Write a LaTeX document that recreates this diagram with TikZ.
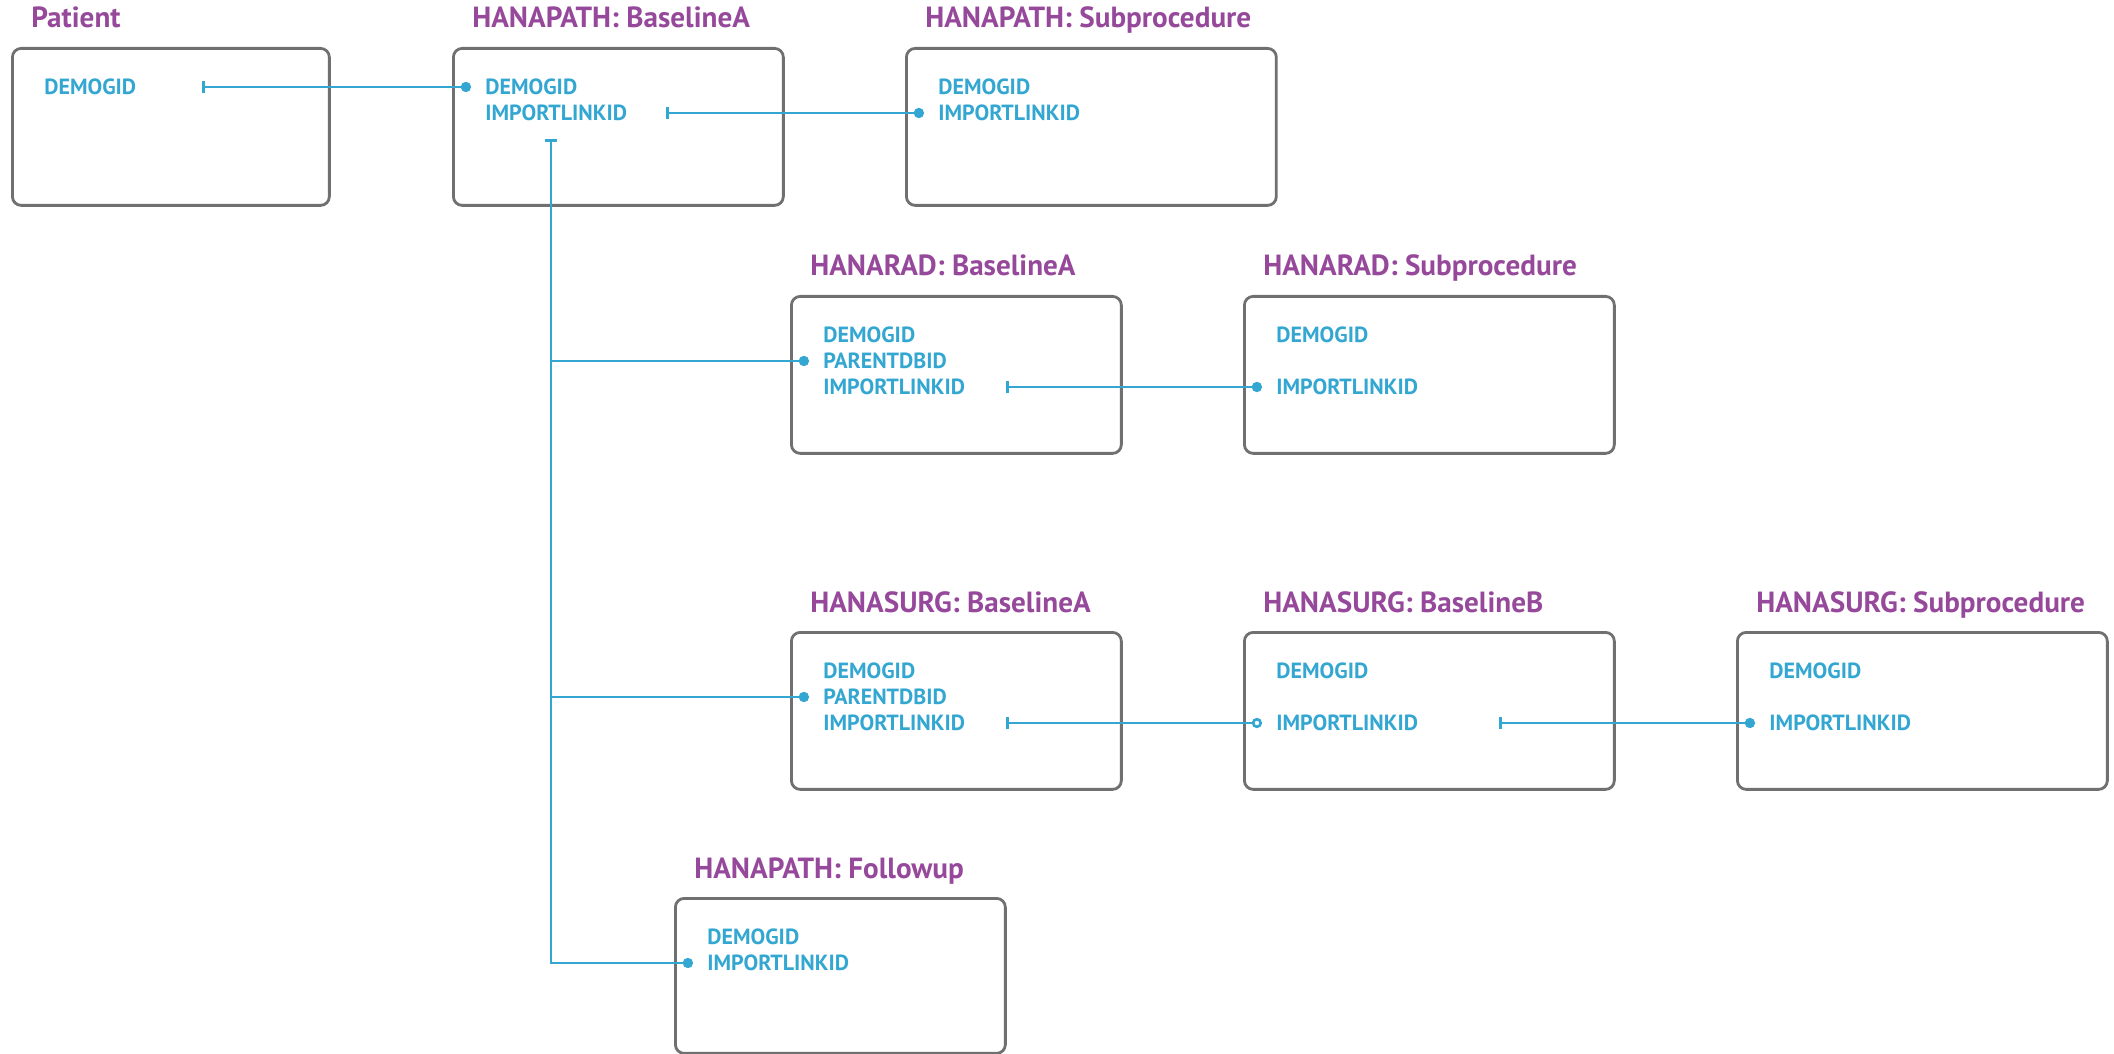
\documentclass[tikz,border=0pt]{standalone}
\usepackage{fontspec}
\setmainfont{PT Sans}
\usetikzlibrary{arrows.meta,positioning,calc}
\definecolor{tabtitle}{RGB}{150,72,155}
\definecolor{fieldblue}{RGB}{51,167,209}
\definecolor{boxgray}{RGB}{112,112,112}

\begin{document}
\begin{tikzpicture}[x=0.02cm,y=-0.02cm,
  tbl/.style={draw=boxgray,line width=1.6pt,rounded corners=5pt,anchor=north west,
    inner sep=0pt,minimum width=6.6cm,minimum height=3.14cm},
  wide/.style={tbl,minimum width=7.4cm},
  ttl/.style={anchor=base west,inner sep=0pt,text=tabtitle,
    font=\fontsize{16.6}{20}\selectfont\bfseries},
  fld/.style={anchor=west,inner xsep=8pt,inner ysep=0pt,text depth=0pt,
    text=fieldblue,font=\fontsize{12.5}{15}\selectfont\bfseries},
  link/.style={draw=fieldblue,line width=1.5pt,
    arrows={Bar[width=7pt]-Circle[length=5.8pt]}},
  optlink/.style={link,arrows={Bar[width=7pt]-Circle[open,length=5.8pt]}},
  branch/.style={draw=fieldblue,line width=1.5pt,arrows={-Circle[length=5.8pt]}}]

  \useasboundingbox (0,0) rectangle (2114,1054);

  % tables
  \node[tbl,minimum width=6.34cm] (pat) at (11,47) {};
  \node[tbl] (pathA) at (452,47) {};
  \node[wide] (pathS) at (905,47) {};
  \node[tbl] (radA) at (790,295) {};
  \node[wide] (radS) at (1243,295) {};
  \node[tbl] (surgA) at (790,631) {};
  \node[wide] (surgB) at (1243,631) {};
  \node[wide] (surgS) at (1736,631) {};
  \node[tbl,minimum height=3.1cm] (pathF) at (674,897) {};

  % titles
  \node[ttl] (patTtl) at ($(pat.north west)+(20,-19)$) {Patient};
  \node[ttl] (pathATtl) at ($(pathA.north west)+(20,-19)$) {HANAPATH: BaselineA};
  \node[ttl] (pathSTtl) at ($(pathS.north west)+(20,-19)$) {HANAPATH: Subprocedure};
  \node[ttl] (radATtl) at ($(radA.north west)+(20,-19)$) {HANARAD: BaselineA};
  \node[ttl] (radSTtl) at ($(radS.north west)+(20,-19)$) {HANARAD: Subprocedure};
  \node[ttl] (surgATtl) at ($(surgA.north west)+(20,-19)$) {HANASURG: BaselineA};
  \node[ttl] (surgBTtl) at ($(surgB.north west)+(20,-19)$) {HANASURG: BaselineB};
  \node[ttl] (surgSTtl) at ($(surgS.north west)+(20,-19)$) {HANASURG: Subprocedure};
  \node[ttl] (pathFTtl) at ($(pathF.north west)+(20,-19)$) {HANAPATH: Followup};

  % fields
  \node[fld] (patDem) at ($(pat.north west)+(19,40)$) {DEMOGID};

  \node[fld] (pathADem) at ($(pathA.north west)+(19,40)$) {DEMOGID};
  \node[fld] (pathAImp) at ($(pathA.north west)+(19,66)$) {IMPORTLINKID};

  \node[fld] (pathSDem) at ($(pathS.north west)+(19,40)$) {DEMOGID};
  \node[fld] (pathSImp) at ($(pathS.north west)+(19,66)$) {IMPORTLINKID};

  \node[fld] (radADem) at ($(radA.north west)+(19,40)$) {DEMOGID};
  \node[fld] (radAPar) at ($(radA.north west)+(19,66)$) {PARENTDBID};
  \node[fld] (radAImp) at ($(radA.north west)+(19,92)$) {IMPORTLINKID};

  \node[fld] (radSDem) at ($(radS.north west)+(19,40)$) {DEMOGID};
  \node[fld] (radSImp) at ($(radS.north west)+(19,92)$) {IMPORTLINKID};

  \node[fld] (surgADem) at ($(surgA.north west)+(19,40)$) {DEMOGID};
  \node[fld] (surgAPar) at ($(surgA.north west)+(19,66)$) {PARENTDBID};
  \node[fld] (surgAImp) at ($(surgA.north west)+(19,92)$) {IMPORTLINKID};

  \node[fld] (surgBDem) at ($(surgB.north west)+(19,40)$) {DEMOGID};
  \node[fld] (surgBImp) at ($(surgB.north west)+(19,92)$) {IMPORTLINKID};

  \node[fld] (surgSDem) at ($(surgS.north west)+(19,40)$) {DEMOGID};
  \node[fld] (surgSImp) at ($(surgS.north west)+(19,92)$) {IMPORTLINKID};

  \node[fld] (pathFDem) at ($(pathF.north west)+(19,40)$) {DEMOGID};
  \node[fld] (pathFImp) at ($(pathF.north west)+(19,66)$) {IMPORTLINKID};

  % link ends
  \coordinate (patOut) at ($(pat.north west)+(191,40)$);
  \coordinate (pathAOut) at ($(pathA.north west)+(214,66)$);
  \coordinate (pathADown) at ($(pathA.north west)+(99,92)$);
  \coordinate (radAOut) at ($(radA.north west)+(216,92)$);
  \coordinate (surgAOut) at ($(surgA.north west)+(216,92)$);
  \coordinate (surgBOut) at ($(surgB.north west)+(256,92)$);

  % links
  \draw[link] (patOut) -- (pathADem.west);
  \draw[link] (pathAOut) -- (pathSImp.west);
  \draw[link] (radAOut) -- (radSImp.west);
  \draw[optlink] (surgAOut) -- (surgBImp.west);
  \draw[link] (surgBOut) -- (surgSImp.west);
  \draw[link] (pathADown) |- (pathFImp.west);
  \draw[branch] (pathADown |- radAPar.west) -- (radAPar.west);
  \draw[branch] (pathADown |- surgAPar.west) -- (surgAPar.west);

\end{tikzpicture}
\end{document}
